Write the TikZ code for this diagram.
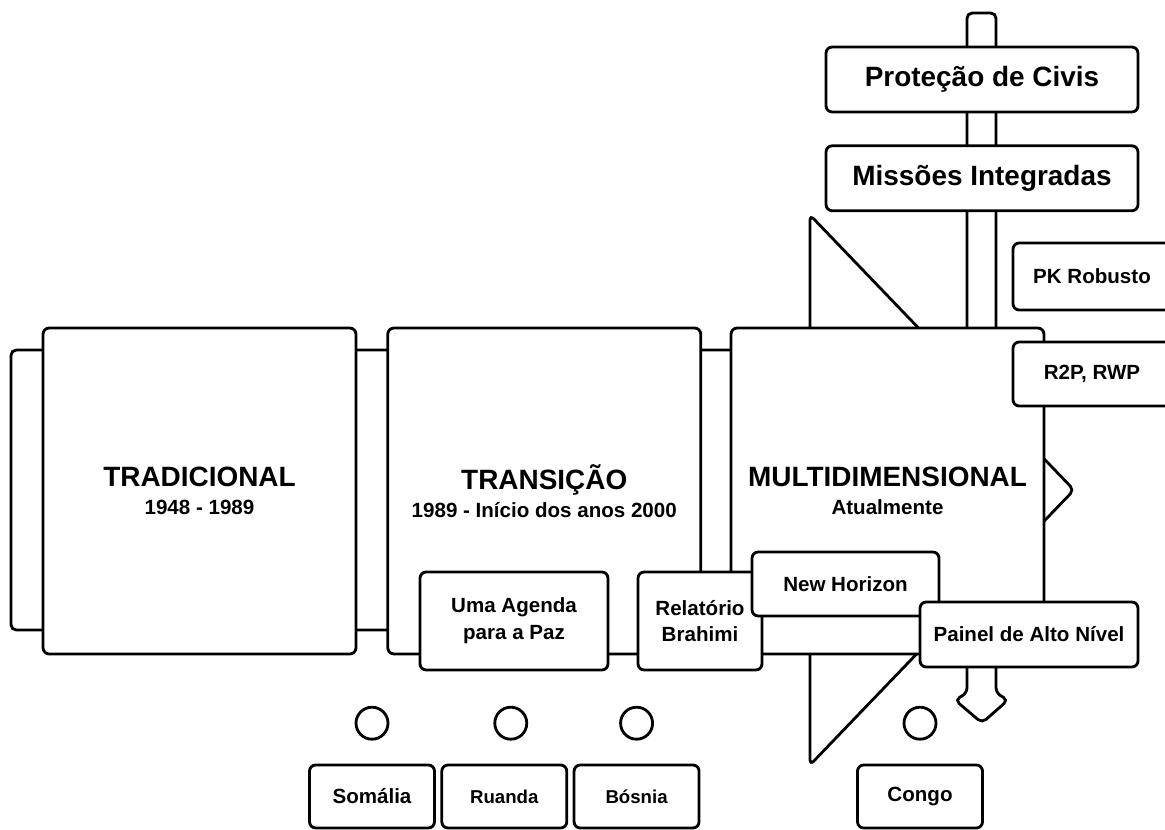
\documentclass[tikz,border=0pt]{standalone}
\usepackage{fontspec}
\setmainfont{Liberation Sans}
\usetikzlibrary{positioning}
\tikzstyle{era} = [rectangle, draw, fill=white, rounded corners=3.5pt, minimum width=6.26cm, minimum height=6.52cm, align=center, font=\fontsize{11.7}{15.8}\selectfont\bfseries]
\tikzstyle{marco} = [rectangle, draw, fill=white, rounded corners=3.5pt, align=center, font=\fontsize{11.7}{15.2}\selectfont\bfseries]
\tikzstyle{placa} = [marco, minimum width=6.24cm, minimum height=1.3cm, font=\fontsize{15.9}{18}\selectfont\bfseries]
\tikzstyle{pais} = [marco, minimum width=2.5cm, minimum height=1.26cm]
\tikzstyle{ponto} = [circle, draw, minimum size=0.64cm, inner sep=0pt]
\newcommand{\titulo}[1]{{\fontsize{15.9}{15.8}\selectfont #1}}

\begin{document}
\begin{tikzpicture}[x=0.02cm, y=-0.02cm, line width=1.6pt, node distance=0.58cm]
    \useasboundingbox (0,0) rectangle (1165,830);

    % seta grande e seta vertical
    \draw[fill=white, rounded corners=3pt] (11,350) -- (810,350) -- (810,215) -- (1074,490) -- (810,765) -- (810,630) -- (11,630) -- cycle;
    \draw[fill=white, rounded corners=3pt] (967,693) -- (967,13) -- (996,13) -- (996,693) -- (1008,700) -- (982,723) -- (955,700) -- cycle;

    \node [era] (trad) at (199.5,491) {\titulo{TRADICIONAL}\\1948 - 1989};
    \node [era, right=of trad] (trans) {\titulo{TRANSIÇÃO}\\1989 - Início dos anos 2000};
    \node [era, right=0.55cm of trans] (multi) {\titulo{MULTIDIMENSIONAL}\\Atualmente};

    \node [placa] (civis) at (982,79.5) {Proteção de Civis};
    \node [placa, below=0.62cm of civis] (missoes) {Missões Integradas};

    \node [marco, minimum width=3.76cm, minimum height=1.96cm] (agenda) at (514,621) {Uma Agenda\\para a Paz};
    \node [marco, minimum width=2.48cm, minimum height=1.96cm] (brahimi) at (700,621) {Relatório\\Brahimi};
    \node [marco, minimum width=3.74cm, minimum height=1.28cm] (horizon) at (845.5,584) {New Horizon};
    \node [marco, minimum width=4.36cm, minimum height=1.3cm] (painel) at (1029,634.5) {Painel de Alto Nível};
    \node [marco, minimum width=3.16cm, minimum height=1.34cm] (robusto) at (1092,276.5) {PK Robusto};
    \node [marco, minimum width=3.16cm, minimum height=1.28cm] (r2p) at (1092,374) {R2P, RWP};

    \node [pais] (somalia) at (372,796.5) {Somália};
    \node [pais, right=0.09cm of somalia, font=\fontsize{10.6}{12}\selectfont\bfseries] (ruanda) {Ruanda};
    \node [pais, right=0.09cm of ruanda, font=\fontsize{10.6}{12}\selectfont\bfseries] (bosnia) {Bósnia};
    \node [pais] (congo) at (920,796.5) {Congo};

    \node [ponto, above=0.46cm of somalia] (psomalia) {};
    \node [ponto, above=0.46cm of ruanda, xshift=0.13cm] (pruanda) {};
    \node [ponto, above=0.46cm of bosnia] (pbosnia) {};
    \node [ponto, above=0.46cm of congo] (pcongo) {};
\end{tikzpicture}
\end{document}
